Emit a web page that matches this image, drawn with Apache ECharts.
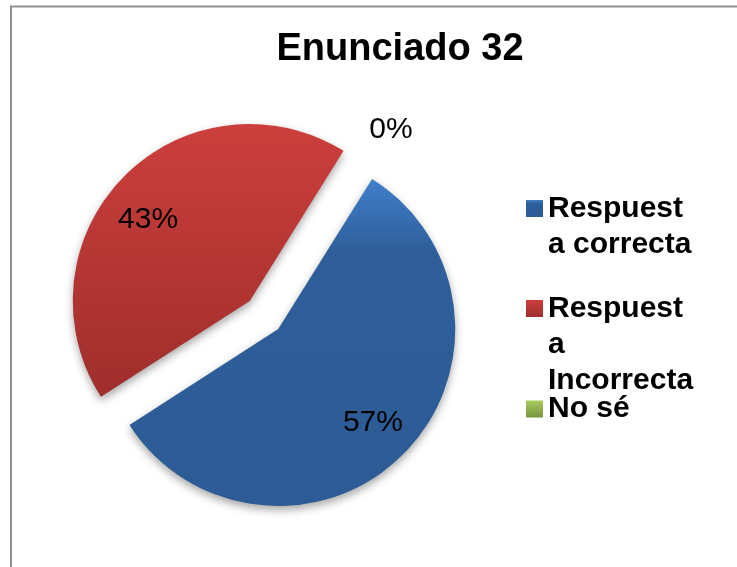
<!DOCTYPE html>
<html>
<head>
<meta charset="utf-8">
<title>Enunciado 32</title>
<script src="https://cdn.jsdelivr.net/npm/echarts@6/dist/echarts.min.js"></script>
<style>
  html, body { margin: 0; padding: 0; background: #fff; }
  #chart { width: 737px; height: 567px; }
</style>
</head>
<body>
<div id="chart"></div>
<script>
// data
const titleText = 'Enunciado 32'
const categories = ['Respuesta correcta', 'Respuesta Incorrecta', 'No sé']
const values = [57, 43, 0]
// legend names as they were wrapped in the original
const legendLines = [['Respuest', 'a correcta'], ['Respuest', 'a', 'Incorrecta'], ['No sé']]

const font = 'Arial, "Liberation Sans", sans-serif'
const lineH = 36
const iconCenters = [208.5, 308.5, 409] // y of each legend square
// small nudges of the percentage labels
const labelPads = [[0, 0, 0, 0], [0, 14, 0, 0], [0, 0, 0, 22]]
const labelFormats = ['{d}%', '\n{d}%', '{d}%']

const grad = (a, b, c) => new echarts.graphic.LinearGradient(0, 0, 0, 1, c
  ? [{ offset: 0, color: a }, { offset: 0.22, color: b }, { offset: 1, color: c }]
  : [{ offset: 0, color: a }, { offset: 1, color: b }])
const colors = [
  grad('#3f7fca', '#2f5f9b', '#2c5b95'),
  grad('#cc3f3c', '#9f2e2c'),
  grad('#a9cb60', '#78953d')
]

const pieCenter = [264, 315]
const common = {
  type: 'pie',
  center: pieCenter,
  startAngle: 58,
  clockwise: true,
  selectedMode: 'multiple',
  selectedOffset: 20,
  avoidLabelOverlap: false,
  percentPrecision: 0,
  emphasis: { disabled: true },
  labelLine: { show: false }
}

const chart = echarts.init(document.getElementById('chart'))
chart.setOption({
  animation: false,
  backgroundColor: '#fff',
  title: {
    text: titleText,
    left: 395,
    top: 26,
    textAlign: 'center',
    textStyle: { fontFamily: font, fontSize: 38, fontWeight: 'bold', color: '#000' }
  },
  // one legend per entry; empty lines on top keep the square beside the first line
  legend: legendLines.map((lines, i) => ({
    data: [categories[i]],
    orient: 'vertical',
    left: 526,
    top: iconCenters[i] - (2 * lines.length - 1) * lineH / 2,
    padding: 0,
    icon: 'rect',
    itemWidth: 17,
    itemHeight: 17,
    selectedMode: false,
    formatter: () => '\n'.repeat(lines.length - 1) + lines.join('\n'),
    itemStyle: { shadowBlur: 0, shadowOffsetY: 0 },
    textStyle: {
      fontFamily: font,
      fontSize: 30,
      fontWeight: 'bold',
      color: '#000',
      lineHeight: lineH
    }
  })),
  graphic: [{
    type: 'rect',
    silent: true,
    shape: { x: 11, y: 6.5, width: 800, height: 700 },
    style: { fill: 'none', stroke: '#8f8f8f', lineWidth: 2 }
  }],
  series: [
    // the slices
    Object.assign({}, common, {
      radius: 177,
      label: { show: false },
      itemStyle: { borderWidth: 0, shadowBlur: 8, shadowOffsetY: 4, shadowColor: 'rgba(0,0,0,0.35)' },
      data: categories.map((name, i) => ({
        name, value: values[i], selected: values[i] > 0,
        itemStyle: { color: colors[i] }
      }))
    }),
    // invisible ring carrying the 57% / 43% labels
    Object.assign({}, common, {
      radius: [83, 177],
      silent: true,
      itemStyle: { color: 'rgba(0,0,0,0)', borderWidth: 0 },
      label: {
        show: true, position: 'inside',
        fontFamily: font, fontSize: 30, lineHeight: 24, color: '#000'
      },
      data: categories.map((name, i) => ({
        name, value: values[i], selected: values[i] > 0,
        label: { show: values[i] > 0, padding: labelPads[i], formatter: labelFormats[i] }
      }))
    }),
    // invisible outer ring for the 0% label
    Object.assign({}, common, {
      radius: [190, 242],
      silent: true,
      itemStyle: { color: 'rgba(0,0,0,0)', borderWidth: 0 },
      label: {
        show: true, position: 'inside',
        fontFamily: font, fontSize: 30, color: '#000'
      },
      data: categories.map((name, i) => ({
        name, value: values[i],
        label: { show: values[i] === 0, padding: labelPads[i], formatter: labelFormats[i] }
      }))
    })
  ]
})
</script>
</body>
</html>
